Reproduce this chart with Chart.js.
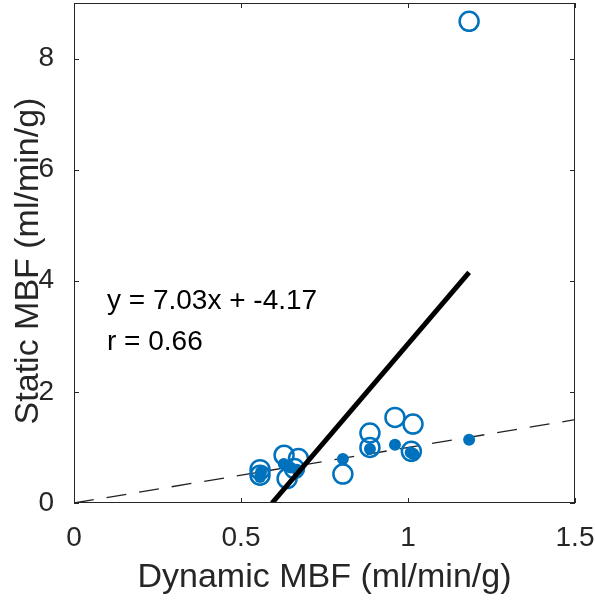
<!DOCTYPE html>
<html>
<head>
<meta charset="utf-8">
<script src="https://cdn.jsdelivr.net/npm/chart.js@4.4.1/dist/chart.umd.min.js"></script>
<style>
  html, body { margin: 0; padding: 0; background: #fff; }
  #wrap { width: 595px; height: 600px; }
</style>
</head>
<body>
<div id="wrap"><canvas id="myChart" width="595" height="600"></canvas></div>
<script>
// static MBF (open circles) vs dynamic MBF
var openX = [1.183, 0.557, 0.557, 0.629, 0.672, 0.638, 0.660, 0.805, 0.886, 0.886, 0.961, 1.015, 1.010];
var openY = [8.67, 0.60, 0.50, 0.86, 0.80, 0.44, 0.62, 0.52, 1.26, 1.00, 1.54, 1.42, 0.93];
// filled markers
var fillX = [0.557, 0.560, 0.628, 0.648, 0.668, 0.805, 0.886, 0.961, 1.008, 1.016, 1.183];
var fillY = [0.47, 0.56, 0.70, 0.64, 0.60, 0.79, 0.97, 1.05, 0.91, 0.88, 1.14];
// regression line y = 7.03x - 4.17, visible part
var fitX = [0.593, 1.183];
var fitY = [0, 4.15];
// identity line
var idX = [0, 1.5];
var idY = [0, 1.5];

var xTicks = [0, 0.5, 1, 1.5];
var yTicks = [0, 2, 4, 6, 8];
var xLabel = "Dynamic MBF (ml/min/g)";
var yLabel = "Static MBF (ml/min/g)";
var fitText = ["y = 7.03x + -4.17", "r = 0.66"];

var blue = "#0072BD";
var axisGrey = "#262626";
var fontName = "'Liberation Sans', Arial, Helvetica, sans-serif";

function pts(xs, ys) {
  return xs.map(function (x, i) { return { x: x, y: ys[i] }; });
}

function noPad(s) {
  s.paddingTop = 0; s.paddingBottom = 0; s.paddingLeft = 0; s.paddingRight = 0;
}

/* box, inward ticks, axis titles and fit text */
var boxPlugin = {
  id: "box",
  afterDatasetsDraw: function (chart) {
    var ctx = chart.ctx, a = chart.chartArea;
    var sx = chart.scales.x, sy = chart.scales.y;
    ctx.save();
    ctx.strokeStyle = axisGrey;
    ctx.lineWidth = 1;
    ctx.strokeRect(a.left + 0.5, a.top + 0.5, a.right - a.left - 1, a.bottom - a.top - 1);
    ctx.beginPath();
    xTicks.forEach(function (v) {
      var px = Math.round(sx.getPixelForValue(v)) + 0.5;
      ctx.moveTo(px, a.bottom); ctx.lineTo(px, a.bottom - 5);
      ctx.moveTo(px, a.top); ctx.lineTo(px, a.top + 5);
    });
    yTicks.forEach(function (v) {
      var py = Math.round(sy.getPixelForValue(v)) + 0.5;
      ctx.moveTo(a.left, py); ctx.lineTo(a.left + 5, py);
      ctx.moveTo(a.right, py); ctx.lineTo(a.right - 5, py);
    });
    ctx.stroke();

    // fit equation
    ctx.fillStyle = "#000";
    ctx.font = "28px " + fontName;
    ctx.textAlign = "left";
    ctx.textBaseline = "middle";
    ctx.fillText(fitText[0], 107, 301);
    ctx.fillText(fitText[1], 107, 342);

    // axis titles
    ctx.fillStyle = axisGrey;
    ctx.font = "34px " + fontName;
    ctx.textAlign = "center";
    ctx.fillText(xLabel, (a.left + a.right) / 2, 578);
    ctx.translate(29, (a.top + a.bottom) / 2 + 8);
    ctx.rotate(-Math.PI / 2);
    ctx.fillText(yLabel, 0, 0);
    ctx.restore();
  }
};

var ctx = document.getElementById("myChart").getContext("2d");
var chart = new Chart(ctx, {
  type: "scatter",
  data: {
    datasets: [
      {
        type: "line",
        data: pts(fitX, fitY),
        borderColor: "#000",
        borderWidth: 5,
        pointRadius: 0,
        fill: false
      },
      {
        data: pts(openX, openY),
        pointRadius: 9.5,
        pointBorderWidth: 2.5,
        borderColor: blue,
        backgroundColor: "rgba(0,0,0,0)"
      },
      {
        data: pts(fillX, fillY),
        pointRadius: 6,
        pointBorderWidth: 0,
        borderColor: blue,
        backgroundColor: blue
      },
      {
        type: "line",
        data: pts(idX, idY),
        borderColor: "#222",
        borderWidth: 1.3,
        borderDash: [20, 13],
        pointRadius: 0,
        fill: false
      }
    ]
  },
  options: {
    responsive: false,
    animation: false,
    layout: { autoPadding: false, padding: { top: 3, right: 20, left: 0, bottom: 0 } },
    plugins: { legend: { display: false }, tooltip: { enabled: false } },
    scales: {
      x: {
        type: "linear",
        min: 0,
        max: 1.5,
        grid: { display: false },
        border: { display: false },
        afterBuildTicks: function (s) { s.ticks = xTicks.map(function (v) { return { value: v }; }); },
        afterFit: function (s) { s.height = 97; noPad(s); },
        ticks: {
          padding: 10,
          color: axisGrey,
          font: { family: fontName, size: 28 },
          maxRotation: 0,
          callback: function (v) { return String(v); }
        }
      },
      y: {
        type: "linear",
        min: 0,
        max: 9,
        grid: { display: false },
        border: { display: false },
        afterBuildTicks: function (s) { s.ticks = yTicks.map(function (v) { return { value: v }; }); },
        afterFit: function (s) { s.width = 74; noPad(s); },
        ticks: {
          padding: 12,
          color: axisGrey,
          font: { family: fontName, size: 28 },
          callback: function (v) { return String(v); }
        }
      }
    }
  },
  plugins: [boxPlugin]
});
</script>
</body>
</html>
